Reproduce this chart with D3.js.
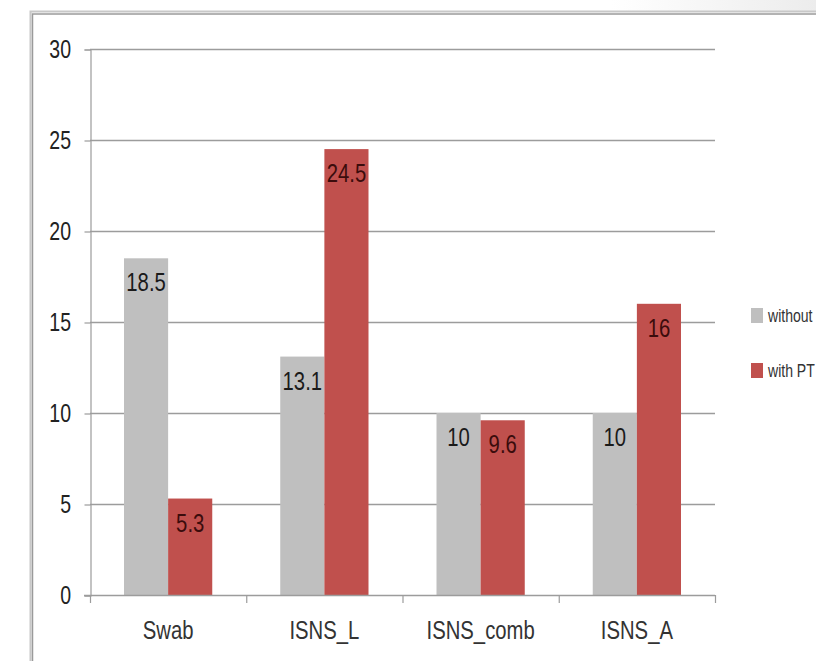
<!DOCTYPE html>
<html>
<head>
<meta charset="utf-8">
<script src="https://cdnjs.cloudflare.com/ajax/libs/d3/7.8.5/d3.min.js"></script>
<style>
  html, body { margin: 0; padding: 0; background: #fff; }
  svg { display: block; }
  text { font-family: "Liberation Sans", Arial, sans-serif; }
</style>
</head>
<body>
<svg id="chart" width="816" height="661"></svg>
<script>
// Chart data
const categories = ["Swab", "ISNS_L", "ISNS_comb", "ISNS_A"];
const seriesNames = ["without", "with PT"];
const withoutPT = [18.5, 13.1, 10, 10];
const withPT = [5.3, 24.5, 9.6, 16];
const yTicks = [0, 5, 10, 15, 20, 25, 30];
const seriesColors = ["#bfbfbf", "#c0504d"];
const labelColors = ["#1a1a1a", "#3b0c0c"];

// condensed look for all lettering
const SX = 0.78;

const svg = d3.select("#chart");
const W = 816, H = 661;

// faint grey wash in the upper right, above the frame
const defs = svg.append("defs");
const grad = defs.append("linearGradient").attr("id", "wash")
  .attr("x1", "0%").attr("y1", "0%").attr("x2", "100%").attr("y2", "0%");
grad.append("stop").attr("offset", "0%").attr("stop-color", "#ffffff");
grad.append("stop").attr("offset", "75%").attr("stop-color", "#ffffff");
grad.append("stop").attr("offset", "100%").attr("stop-color", "#ececec");
svg.append("rect").attr("x", 0).attr("y", 0).attr("width", W).attr("height", 14)
  .attr("fill", "url(#wash)");

// double frame of the chart area
svg.append("rect").attr("x", 30.5).attr("y", 11.5).attr("width", W).attr("height", H)
  .attr("fill", "#fff").attr("stroke", "#c8c8c8").attr("stroke-width", 2);
svg.append("rect").attr("x", 32.5).attr("y", 14).attr("width", W).attr("height", H)
  .attr("fill", "none").attr("stroke", "#9a9a9a").attr("stroke-width", 1.5);

// scales
const x0 = d3.scaleBand().domain(categories).range([90, 715]).padding(0);
const x1 = d3.scaleBand().domain([0, 1]).range([34, x0.bandwidth() - 34]).padding(0);
const y = d3.scaleLinear().domain([0, 30]).range([595, 49]);

// gridlines
svg.append("g").selectAll("line").data(yTicks.filter(d => d > 0)).join("line")
  .attr("x1", 90).attr("x2", 715)
  .attr("y1", d => y(d) + 0.5).attr("y2", d => y(d) + 0.5)
  .attr("stroke", "#9c9c9c").attr("stroke-width", 1.5);

// y axis
const yAxis = d3.axisLeft(y).tickValues(yTicks).tickSize(6).tickFormat(() => "");
const ya = svg.append("g").attr("transform", "translate(90.5,0.5)").call(yAxis);
ya.select(".domain").attr("stroke", "#9c9c9c").attr("stroke-width", 1.2);
ya.selectAll(".tick line").attr("stroke", "#9c9c9c").attr("stroke-width", 1.2);
svg.append("g").selectAll("text").data(yTicks).join("text")
  .attr("transform", d => `translate(71,${y(d) + 9}) scale(${SX},1)`)
  .attr("text-anchor", "end")
  .style("font-size", "25px")
  .attr("fill", "#222")
  .text(d => d);

// bars
const rows = categories.map((c, i) => ({ cat: c, vals: [withoutPT[i], withPT[i]] }));
const grp = svg.append("g").selectAll("g").data(rows).join("g")
  .attr("transform", d => `translate(${x0(d.cat)},0)`);
grp.selectAll("rect").data(d => d.vals.map((v, k) => ({ v, k }))).join("rect")
  .attr("x", d => x1(d.k))
  .attr("width", x1.bandwidth())
  .attr("y", d => y(d.v))
  .attr("height", d => y(0) - y(d.v))
  .attr("fill", d => seriesColors[d.k]);

// value labels inside the top of each bar
grp.selectAll("text").data(d => d.vals.map((v, k) => ({ v, k }))).join("text")
  .attr("transform", d => `translate(${x1(d.k) + x1.bandwidth() / 2},${y(d.v) + 33}) scale(${SX},1)`)
  .attr("text-anchor", "middle")
  .style("font-size", "26px")
  .attr("fill", d => labelColors[d.k])
  .text(d => d.v);

// x axis line and category separators
const xa = svg.append("g");
xa.append("line").attr("x1", 84).attr("x2", 715)
  .attr("y1", y(0) + 0.5).attr("y2", y(0) + 0.5)
  .attr("stroke", "#9c9c9c").attr("stroke-width", 1.5);
const bounds = categories.map(c => x0(c)).concat([x0.range()[1]]);
xa.selectAll("line.tk").data(bounds).join("line")
  .attr("class", "tk")
  .attr("x1", d => d + 0.5).attr("x2", d => d + 0.5)
  .attr("y1", y(0)).attr("y2", y(0) + 8)
  .attr("stroke", "#9c9c9c").attr("stroke-width", 1.2);
svg.append("g").selectAll("text").data(categories).join("text")
  .attr("transform", d => `translate(${x0(d) + x0.bandwidth() / 2},639) scale(${SX},1)`)
  .attr("text-anchor", "middle")
  .style("font-size", "26px")
  .attr("fill", "#333")
  .text(d => d);

// legend
const leg = svg.append("g").selectAll("g").data(seriesNames).join("g")
  .attr("transform", (d, i) => `translate(751,${308 + i * 55})`);
leg.append("rect").attr("width", 12).attr("height", 15)
  .attr("fill", (d, i) => seriesColors[i]);
leg.append("text")
  .attr("transform", `translate(17,14) scale(${SX},1)`)
  .style("font-size", "18px").attr("fill", "#333")
  .text(d => d);
</script>
</body>
</html>
